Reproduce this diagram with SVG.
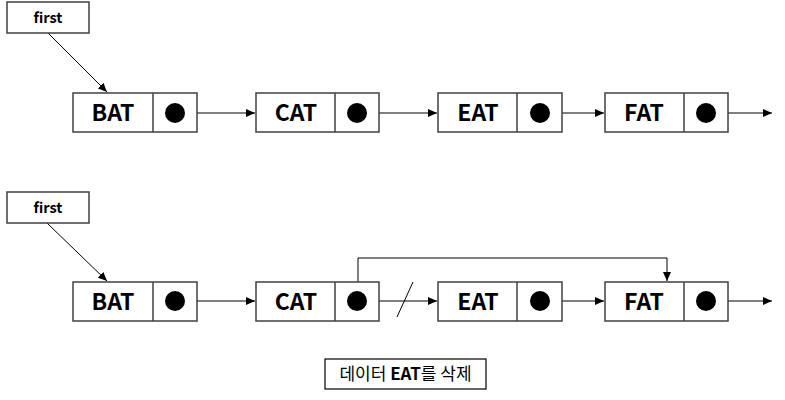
<svg xmlns="http://www.w3.org/2000/svg" width="785" height="400" viewBox="0 0 785 400">
<defs>
<marker id="ah" markerWidth="10" markerHeight="8" refX="9" refY="4" orient="auto" markerUnits="userSpaceOnUse">
<path d="M0,0 L9,4 L0,8 Z" fill="#000"/>
</marker>
<style>
.box{fill:#fff;stroke:#404040;stroke-width:1.5}
.lbl{font-family:"Noto Sans CJK KR","Liberation Sans",sans-serif;font-weight:bold;font-size:23px;text-anchor:middle;fill:#000}
.small{font-family:"Noto Sans CJK KR","Liberation Sans",sans-serif;font-weight:bold;font-size:14.5px;text-anchor:middle;fill:#000}
.cap{font-family:"Noto Sans CJK KR","Liberation Sans",sans-serif;font-size:17px;text-anchor:middle;fill:#000}
.dot{fill:#000}
.ln{stroke:#000;stroke-width:1;fill:none}
</style>
</defs>
<rect width="785" height="400" fill="#fff"/>

<g id="connectors">
<line class="ln" x1="48" y1="33" x2="107" y2="92" marker-end="url(#ah)"/>
<line class="ln" x1="175" y1="113" x2="255" y2="113" marker-end="url(#ah)"/>
<line class="ln" x1="357" y1="113" x2="437" y2="113" marker-end="url(#ah)"/>
<line class="ln" x1="540" y1="113" x2="604" y2="113" marker-end="url(#ah)"/>
<line class="ln" x1="706" y1="113" x2="772" y2="113" marker-end="url(#ah)"/>

<line class="ln" x1="47" y1="223" x2="107" y2="281" marker-end="url(#ah)"/>
<line class="ln" x1="175" y1="301" x2="255" y2="301" marker-end="url(#ah)"/>
<line class="ln" x1="357" y1="301" x2="437" y2="301" marker-end="url(#ah)"/>
<line class="ln" x1="540" y1="301" x2="604" y2="301" marker-end="url(#ah)"/>
<line class="ln" x1="706" y1="301" x2="772" y2="301" marker-end="url(#ah)"/>
<polyline class="ln" points="358,301 358,258 667,258 667,281" marker-end="url(#ah)"/>
<line class="ln" x1="413" y1="282" x2="397" y2="317"/>
</g>

<g id="first1">
<rect class="box" x="7" y="2" width="82" height="31"/>
<text class="small" x="48" y="23">first</text>
</g>

<g id="bat1">
<rect class="box" x="73" y="93" width="124" height="39"/>
<line class="box" x1="153" y1="93" x2="153" y2="132"/>
<text class="lbl" x="113" y="121">BAT</text>
<circle class="dot" cx="175" cy="113" r="10"/>
</g>
<g id="cat1">
<rect class="box" x="256" y="93" width="123" height="39"/>
<line class="box" x1="335" y1="93" x2="335" y2="132"/>
<text class="lbl" x="296" y="121">CAT</text>
<circle class="dot" cx="357" cy="113" r="10"/>
</g>
<g id="eat1">
<rect class="box" x="438" y="93" width="124" height="39"/>
<line class="box" x1="517" y1="93" x2="517" y2="132"/>
<text class="lbl" x="478" y="121">EAT</text>
<circle class="dot" cx="540" cy="113" r="10"/>
</g>
<g id="fat1">
<rect class="box" x="605" y="93" width="123" height="39"/>
<line class="box" x1="684" y1="93" x2="684" y2="132"/>
<text class="lbl" x="644" y="121">FAT</text>
<circle class="dot" cx="706" cy="113" r="10"/>
</g>

<g id="first2">
<rect class="box" x="7" y="192" width="82" height="31"/>
<text class="small" x="48" y="213">first</text>
</g>

<g id="bat2">
<rect class="box" x="73" y="282" width="124" height="39"/>
<line class="box" x1="153" y1="282" x2="153" y2="321"/>
<text class="lbl" x="113" y="310">BAT</text>
<circle class="dot" cx="175" cy="301" r="10"/>
</g>
<g id="cat2">
<rect class="box" x="256" y="282" width="123" height="39"/>
<line class="box" x1="335" y1="282" x2="335" y2="321"/>
<text class="lbl" x="296" y="310">CAT</text>
<circle class="dot" cx="357" cy="301" r="10"/>
</g>
<g id="eat2">
<rect class="box" x="438" y="282" width="124" height="39"/>
<line class="box" x1="517" y1="282" x2="517" y2="321"/>
<text class="lbl" x="478" y="310">EAT</text>
<circle class="dot" cx="540" cy="301" r="10"/>
</g>
<g id="fat2">
<rect class="box" x="605" y="282" width="123" height="39"/>
<line class="box" x1="684" y1="282" x2="684" y2="321"/>
<text class="lbl" x="644" y="310">FAT</text>
<circle class="dot" cx="706" cy="301" r="10"/>
</g>

<g id="caption">
<rect x="325" y="359" width="161" height="30" fill="#fff" stroke="#000" stroke-width="1.2"/>
<text class="cap" x="405.5" y="380">데이터 <tspan font-weight="bold">EAT</tspan>를 삭제</text>
</g>
</svg>
